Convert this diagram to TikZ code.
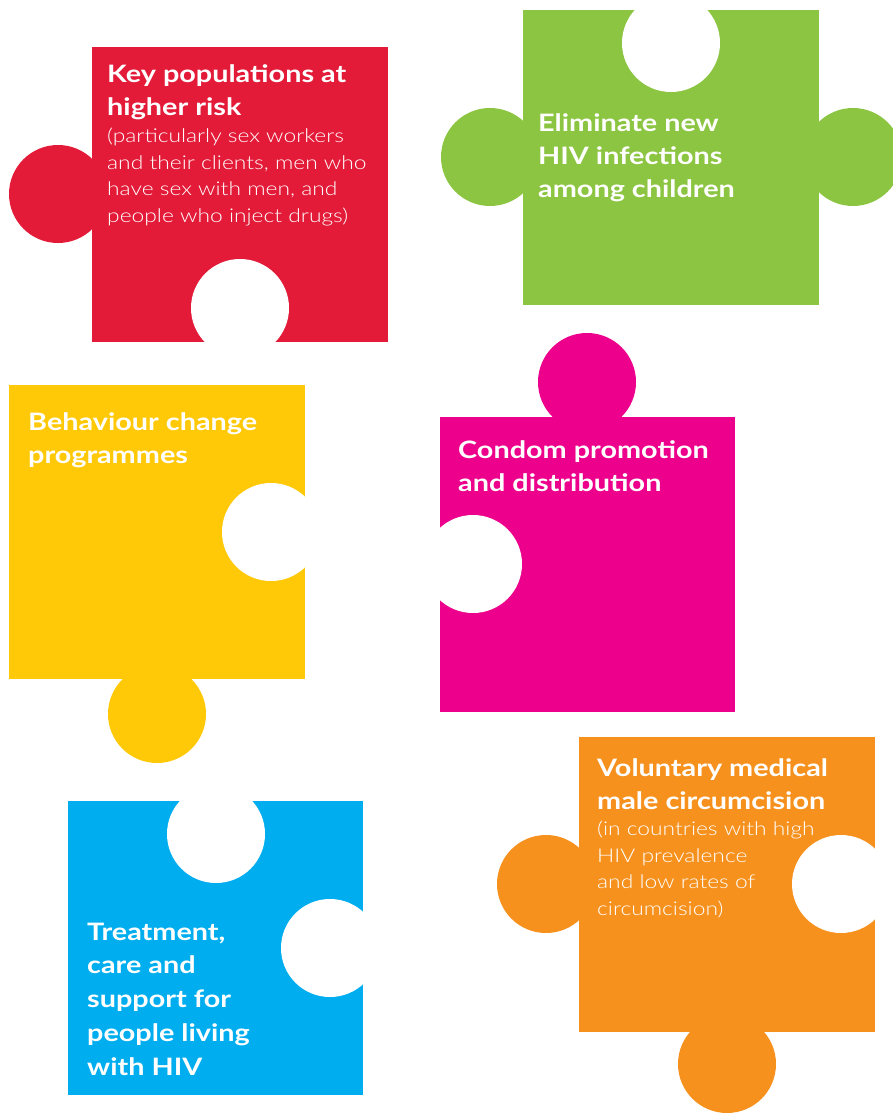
\documentclass[tikz,border=0pt]{standalone}
\usepackage{fontspec}
\setmainfont{Lato}[FakeStretch=1.2]
\newfontfamily\lightfont{Lato Light}[FakeStretch=1.2]
\definecolor{riskred}{HTML}{E31B38}
\definecolor{childgreen}{HTML}{8BC541}
\definecolor{changeyellow}{HTML}{FFC907}
\definecolor{condommagenta}{HTML}{EC008C}
\definecolor{careblue}{HTML}{00AEEF}
\definecolor{circorange}{HTML}{F6911E}

\begin{document}
\begin{tikzpicture}
    [x=1pt, y=-1pt,
     title/.style={anchor=base west, inner sep=0, align=left, text=white,
        font=\fontsize{24}{33}\selectfont\bfseries},
     note/.style={anchor=base west, inner sep=0, align=left, text=white,
        font=\lightfont\fontsize{19}{26.5}\selectfont},
     hole/.style={fill=white}]
    \useasboundingbox (0,0) rectangle (893,1113);

    % key populations piece
    \fill[riskred] (92,47) rectangle (388,342);
    \fill[riskred] (58,194) circle (49pt);
    \fill[hole] (240,308) circle (49pt);

    % children piece
    \fill[childgreen] (523,10) rectangle (819,305);
    \fill[childgreen] (490,157) circle (49pt);
    \fill[childgreen] (853,157) circle (49pt);
    \fill[hole] (671,43) circle (49pt);

    % behaviour piece
    \fill[changeyellow] (9,385) rectangle (305,679);
    \fill[changeyellow] (157,714) circle (49pt);
    \fill[hole] (271,532) circle (49pt);

    % condom piece
    \fill[condommagenta] (440,417) rectangle (735,712);
    \fill[condommagenta] (587,382) circle (49pt);
    \fill[hole] (473,564) circle (49pt);

    % treatment piece
    \fill[careblue] (68,801) rectangle (363,1095);
    \fill[hole] (216,834) circle (49pt);
    \fill[hole] (330,948) circle (49pt);

    % circumcision piece
    \fill[circorange] (579,737) rectangle (875,1032);
    \fill[circorange] (546,884) circle (49pt);
    \fill[circorange] (727,1064) circle (49pt);
    \fill[hole] (841,884) circle (49pt);

    % labels (placed at the baseline of their last line)
    \node[title] (keypop) at (107,116) {Key populations at\\higher risk};
    \node[note] (keypopnote) at (107,222)
        {(particularly sex workers\\and their clients, men who\\have sex with men, and\\people who inject drugs)};
    \node[title] (children) at (538,197) {Eliminate new\\HIV infections\\among children};
    \node[title] (behaviour) at (28,463) {Behaviour change\\programmes};
    \node[title] (condom) at (458,491) {Condom promotion\\and distribution};
    \node[title, font=\fontsize{24}{33.7}\selectfont\bfseries] (treatment) at (87,1075)
        {Treatment,\\care and\\support for\\people living\\with HIV};
    \node[title] (circ) at (597,809) {Voluntary medical\\male circumcision};
    \node[note] (circnote) at (597,915)
        {(in countries with high\\HIV prevalence\\and low rates of\\circumcision)};

\end{tikzpicture}
\end{document}
